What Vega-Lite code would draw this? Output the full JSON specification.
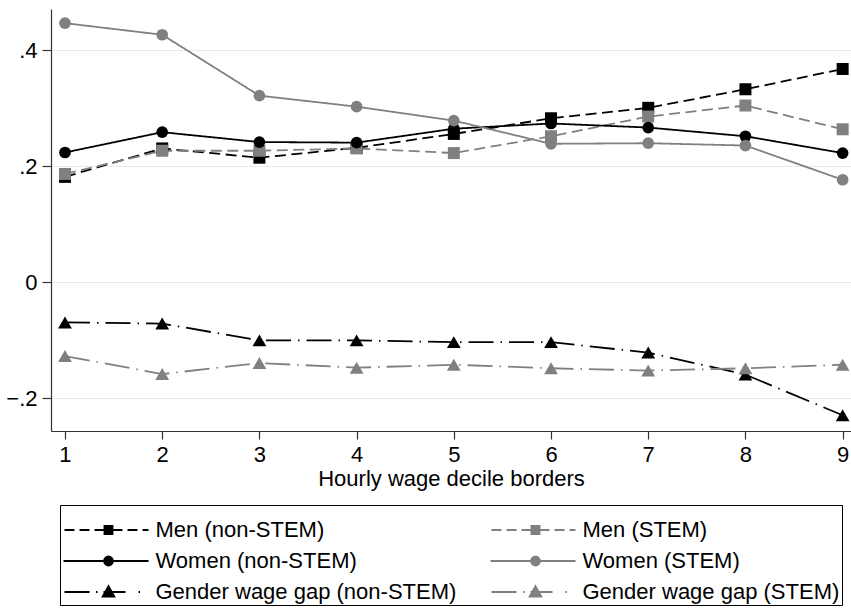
{
  "$schema": "https://vega.github.io/schema/vega-lite/v6.json",
  "width": 800,
  "height": 422,
  "autosize": {"type": "none"},
  "padding": {"left": 51, "top": 9, "right": 0, "bottom": 179},
  "config": {
    "view": {"stroke": null},
    "font": "Liberation Sans",
    "axis": {"labelFont": "Liberation Sans", "titleFont": "Liberation Sans"},
    "legend": {
      "labelFont": "Liberation Sans", "titleFont": "Liberation Sans",
      "columns": 2, "columnPadding": 29, "rowPadding": 9,
      "titleFontSize": 8, "titlePadding": 4,
      "labelFontSize": 22, "labelColor": "black", "labelOffset": 36, "labelLimit": 0,
      "symbolSize": 81, "symbolOffset": 35.5, "symbolStrokeWidth": 1.8, "symbolOpacity": 1,
      "strokeColor": "#000000", "padding": 2
    }
  },
  "data": {
    "values": [
      {"s": "Men (non-STEM)", "x": 1, "v": 0.182},
      {"s": "Men (non-STEM)", "x": 2, "v": 0.231},
      {"s": "Men (non-STEM)", "x": 3, "v": 0.215},
      {"s": "Men (non-STEM)", "x": 4, "v": 0.232},
      {"s": "Men (non-STEM)", "x": 5, "v": 0.256},
      {"s": "Men (non-STEM)", "x": 6, "v": 0.283},
      {"s": "Men (non-STEM)", "x": 7, "v": 0.301},
      {"s": "Men (non-STEM)", "x": 8, "v": 0.333},
      {"s": "Men (non-STEM)", "x": 9, "v": 0.368},
      {"s": "Men (STEM)", "x": 1, "v": 0.187},
      {"s": "Men (STEM)", "x": 2, "v": 0.227},
      {"s": "Men (STEM)", "x": 3, "v": 0.227},
      {"s": "Men (STEM)", "x": 4, "v": 0.231},
      {"s": "Men (STEM)", "x": 5, "v": 0.223},
      {"s": "Men (STEM)", "x": 6, "v": 0.252},
      {"s": "Men (STEM)", "x": 7, "v": 0.286},
      {"s": "Men (STEM)", "x": 8, "v": 0.305},
      {"s": "Men (STEM)", "x": 9, "v": 0.264},
      {"s": "Women (non-STEM)", "x": 1, "v": 0.224},
      {"s": "Women (non-STEM)", "x": 2, "v": 0.259},
      {"s": "Women (non-STEM)", "x": 3, "v": 0.242},
      {"s": "Women (non-STEM)", "x": 4, "v": 0.241},
      {"s": "Women (non-STEM)", "x": 5, "v": 0.265},
      {"s": "Women (non-STEM)", "x": 6, "v": 0.274},
      {"s": "Women (non-STEM)", "x": 7, "v": 0.267},
      {"s": "Women (non-STEM)", "x": 8, "v": 0.252},
      {"s": "Women (non-STEM)", "x": 9, "v": 0.223},
      {"s": "Women (STEM)", "x": 1, "v": 0.447},
      {"s": "Women (STEM)", "x": 2, "v": 0.427},
      {"s": "Women (STEM)", "x": 3, "v": 0.322},
      {"s": "Women (STEM)", "x": 4, "v": 0.303},
      {"s": "Women (STEM)", "x": 5, "v": 0.279},
      {"s": "Women (STEM)", "x": 6, "v": 0.239},
      {"s": "Women (STEM)", "x": 7, "v": 0.240},
      {"s": "Women (STEM)", "x": 8, "v": 0.236},
      {"s": "Women (STEM)", "x": 9, "v": 0.177},
      {"s": "Gender wage gap (non-STEM)", "x": 1, "v": -0.069},
      {"s": "Gender wage gap (non-STEM)", "x": 2, "v": -0.071},
      {"s": "Gender wage gap (non-STEM)", "x": 3, "v": -0.100},
      {"s": "Gender wage gap (non-STEM)", "x": 4, "v": -0.100},
      {"s": "Gender wage gap (non-STEM)", "x": 5, "v": -0.103},
      {"s": "Gender wage gap (non-STEM)", "x": 6, "v": -0.103},
      {"s": "Gender wage gap (non-STEM)", "x": 7, "v": -0.121},
      {"s": "Gender wage gap (non-STEM)", "x": 8, "v": -0.159},
      {"s": "Gender wage gap (non-STEM)", "x": 9, "v": -0.229},
      {"s": "Gender wage gap (STEM)", "x": 1, "v": -0.127},
      {"s": "Gender wage gap (STEM)", "x": 2, "v": -0.158},
      {"s": "Gender wage gap (STEM)", "x": 3, "v": -0.139},
      {"s": "Gender wage gap (STEM)", "x": 4, "v": -0.147},
      {"s": "Gender wage gap (STEM)", "x": 5, "v": -0.142},
      {"s": "Gender wage gap (STEM)", "x": 6, "v": -0.148},
      {"s": "Gender wage gap (STEM)", "x": 7, "v": -0.152},
      {"s": "Gender wage gap (STEM)", "x": 8, "v": -0.148},
      {"s": "Gender wage gap (STEM)", "x": 9, "v": -0.142}
    ]
  },
  "encoding": {
    "x": {
      "field": "x", "type": "quantitative",
      "scale": {"domain": [0.856, 9.086], "nice": false, "zero": false},
      "axis": {
        "values": [1, 2, 3, 4, 5, 6, 7, 8, 9],
        "grid": false,
        "tickSize": 8, "tickColor": "#333", "tickWidth": 1.2,
        "domainColor": "#333", "domainWidth": 1.2,
        "labelFontSize": 22, "labelColor": "black", "labelPadding": 5, "labelFlush": false,
        "title": "Hourly wage decile borders",
        "titleFontSize": 22, "titleFontWeight": "normal", "titleColor": "black", "titlePadding": 3
      }
    },
    "y": {
      "field": "v", "type": "quantitative",
      "scale": {"domain": [-0.2562, 0.4714], "nice": false, "zero": false},
      "axis": {
        "values": [-0.2, 0, 0.2, 0.4],
        "grid": true, "gridColor": "#e3eaf0", "gridWidth": 1.2,
        "tickSize": 9, "tickColor": "#333", "tickWidth": 1.2,
        "domainColor": "#333", "domainWidth": 1.2,
        "labelFontSize": 22, "labelColor": "black", "labelPadding": 5,
        "labelExpr": "datum.value == 0 ? '0' : replace(format(datum.value, '.1f'), '0.', '.')",
        "title": null
      }
    }
  },
  "layer": [
    {
      "mark": {"type": "line", "strokeWidth": 1.8},
      "encoding": {
        "color": {
          "field": "s", "type": "nominal", "legend": null,
          "scale": {
            "domain": ["Men (non-STEM)", "Women (non-STEM)", "Gender wage gap (non-STEM)", "Men (STEM)", "Women (STEM)", "Gender wage gap (STEM)"],
            "range": ["#000000", "#000000", "#000000", "#808080", "#808080", "#808080"]
          }
        },
        "strokeDash": {
          "field": "s", "type": "nominal", "legend": null,
          "scale": {
            "domain": ["Men (non-STEM)", "Women (non-STEM)", "Gender wage gap (non-STEM)", "Men (STEM)", "Women (STEM)", "Gender wage gap (STEM)"],
            "range": [[11, 5.5], [1, 0], [25, 7, 1.5, 7], [11, 5.5], [1, 0], [25, 7, 1.5, 7]]
          }
        },
        "order": {"field": "x", "type": "quantitative"}
      }
    },
    {
      "transform": [{"filter": "indexof(datum.s, 'Men') == 0"}],
      "mark": {"type": "point", "shape": "square", "filled": true, "opacity": 1, "size": 144},
      "encoding": {
        "color": {"field": "s", "type": "nominal", "legend": null}
      }
    },
    {
      "transform": [{"filter": "indexof(datum.s, 'Women') == 0"}],
      "mark": {"type": "point", "shape": "circle", "filled": true, "opacity": 1, "size": 137},
      "encoding": {
        "color": {"field": "s", "type": "nominal", "legend": null}
      }
    },
    {
      "transform": [{"filter": "indexof(datum.s, 'Gender') == 0"}],
      "mark": {"type": "point", "shape": "triangle-up", "filled": true, "opacity": 1, "size": 190},
      "encoding": {
        "color": {"field": "s", "type": "nominal", "legend": null}
      }
    },
    {
      "transform": [{"filter": "datum.x > 100"}],
      "mark": {"type": "point", "size": 81, "strokeWidth": 1.8},
      "encoding": {
        "shape": {
          "field": "s", "type": "nominal",
          "title": " ",
          "legend": {"orient": "none", "legendX": 9, "legendY": 496, "columns": 2, "direction": "horizontal"},
          "scale": {
            "domain": ["Men (non-STEM)", "Men (STEM)", "Women (non-STEM)", "Women (STEM)", "Gender wage gap (non-STEM)", "Gender wage gap (STEM)"],
            "range": [
              "M-9.78,0H-7.56M-6.44,0H-4.22M-3.11,0H3.11M4.22,0H6.44M7.56,0H8.89M-0.9,-0.9H0.9V0.9H-0.9Z",
              "M-9.78,0H-7.56M-6.44,0H-4.22M-3.11,0H3.11M4.22,0H6.44M7.56,0H8.89M-0.9,-0.9H0.9V0.9H-0.9Z",
              "M-10,0H8.9M-1,0A1,1,0,1,0,1,0A1,1,0,1,0,-1,0Z",
              "M-10,0H8.9M-1,0A1,1,0,1,0,1,0A1,1,0,1,0,-1,0Z",
              "M-9.78,0H-4.22M-2.78,0H-2.44M-1.11,0H3.78M6.67,0H7M0,-1.3L1.3,1L-1.3,1Z",
              "M-9.78,0H-4.22M-2.78,0H-2.44M-1.11,0H3.78M6.67,0H7M0,-1.3L1.3,1L-1.3,1Z"
            ]
          }
        },
        "fill": {
          "field": "s", "type": "nominal",
          "title": " ",
          "legend": {"orient": "none", "legendX": 9, "legendY": 496, "columns": 2, "direction": "horizontal"},
          "scale": {
            "domain": ["Men (non-STEM)", "Men (STEM)", "Women (non-STEM)", "Women (STEM)", "Gender wage gap (non-STEM)", "Gender wage gap (STEM)"],
            "range": ["#000000", "#808080", "#000000", "#808080", "#000000", "#808080"]
          }
        },
        "stroke": {
          "field": "s", "type": "nominal",
          "title": " ",
          "legend": {"orient": "none", "legendX": 9, "legendY": 496, "columns": 2, "direction": "horizontal"},
          "scale": {
            "domain": ["Men (non-STEM)", "Men (STEM)", "Women (non-STEM)", "Women (STEM)", "Gender wage gap (non-STEM)", "Gender wage gap (STEM)"],
            "range": ["#000000", "#808080", "#000000", "#808080", "#000000", "#808080"]
          }
        }
      }
    }
  ]
}
